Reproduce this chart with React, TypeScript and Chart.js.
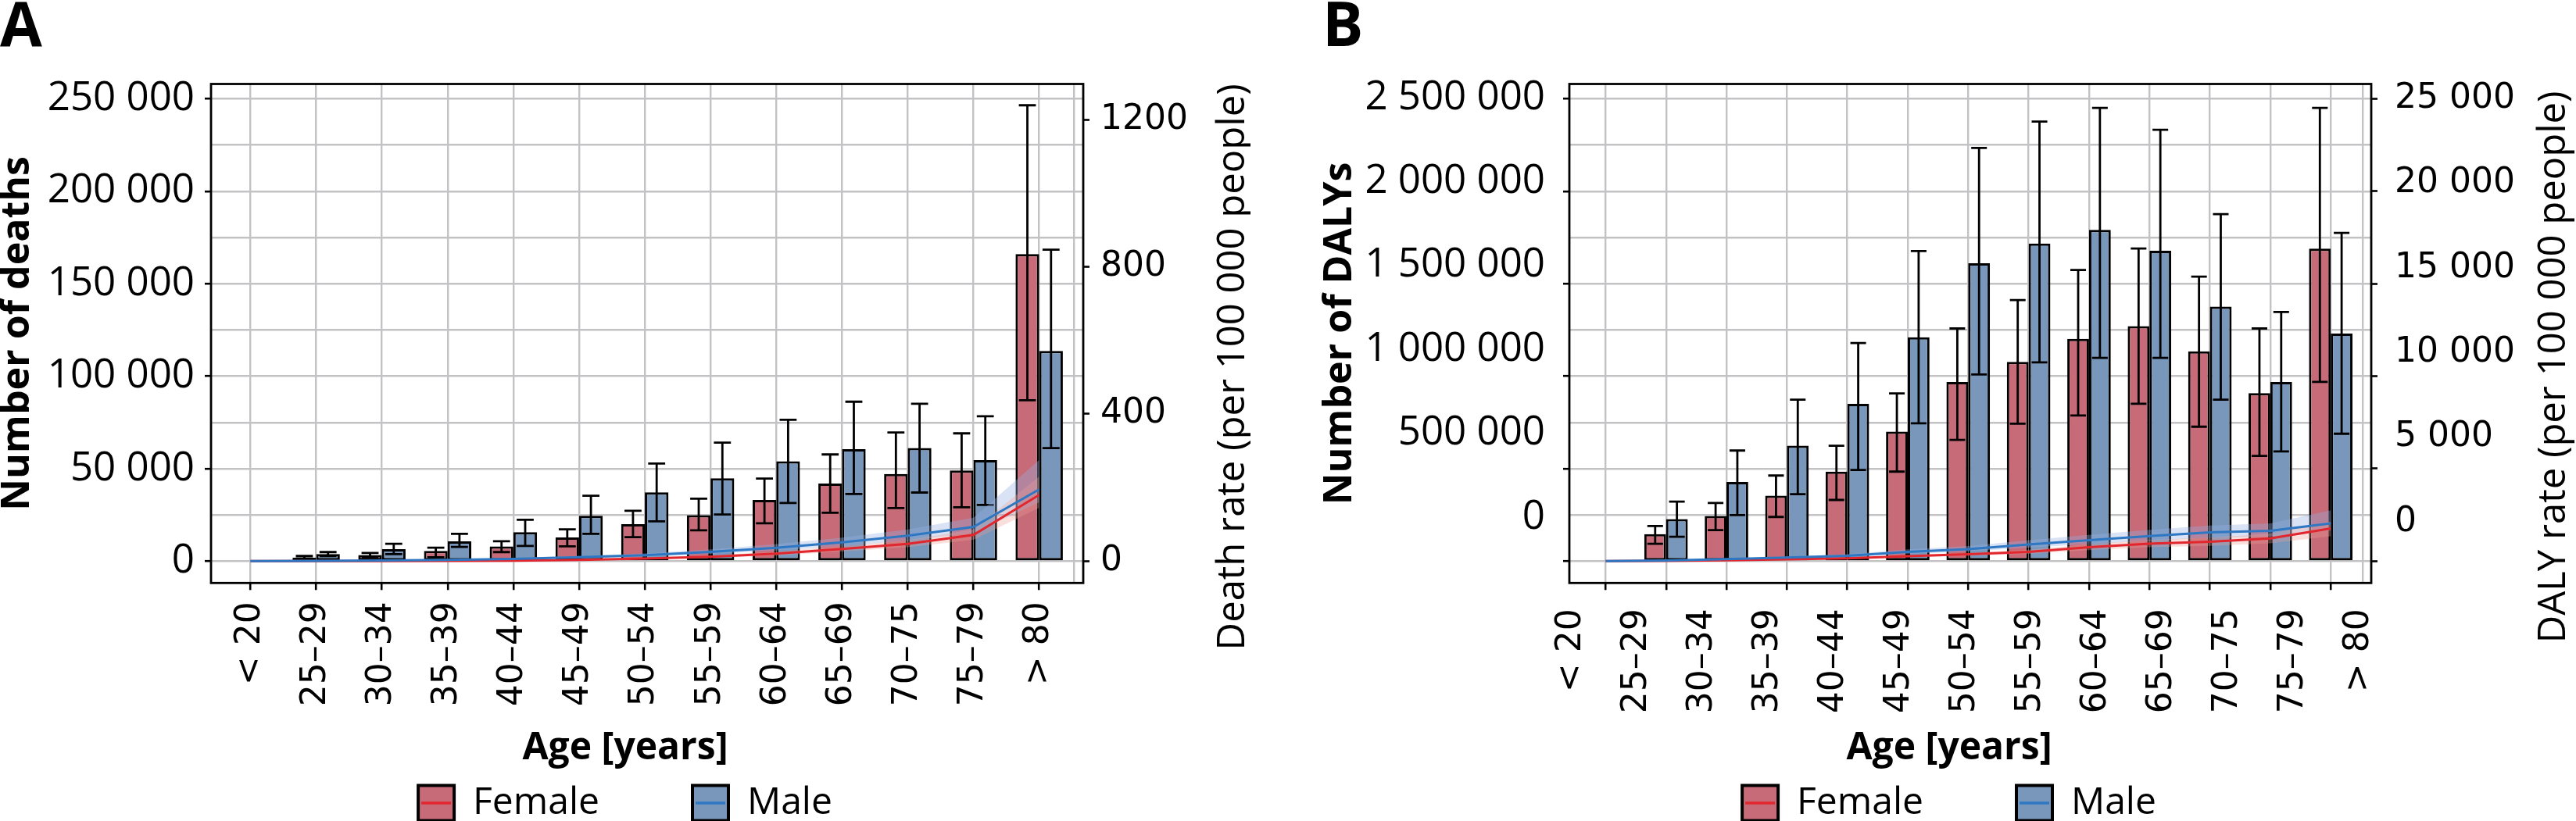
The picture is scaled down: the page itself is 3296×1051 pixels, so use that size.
import React, { useEffect, useRef } from 'react';
import { Chart, registerables } from 'chart.js';

Chart.register(...registerables);

// ---------------- data ----------------
const ageGroups = ['< 20', '25–29', '30–34', '35–39', '40–44', '45–49', '50–54', '55–59', '60–64', '65–69', '70–75', '75–79', '> 80'];
const agePositions = [0, 1, 2, 3, 4, 5, 6, 7, 8, 9, 10, 11, 12];
const extraGridPositions = [12.53];

// Panel A: number of deaths (bars) and death rate (lines)
const deathsFemale = [null, 2000, 3300, 5500, 8000, 12800, 20000, 24900, 33100, 42000, 47100, 49000, 166000];
const deathsFemaleLow = [null, 1400, 2100, 2100, 4900, 8000, 13000, 16700, 20500, 26200, 28700, 29100, 87000];
const deathsFemaleHigh = [null, 2800, 4400, 7300, 10800, 17200, 27200, 33800, 44700, 57700, 69600, 69100, 246500];
const deathsMale = [null, 3800, 6500, 10700, 15700, 24500, 37200, 44800, 54000, 60500, 61200, 54600, 113700];
const deathsMaleLow = [null, 2700, 3800, 7700, 8200, 14800, 21500, 25200, 31500, 36300, 37100, 30400, 61100];
const deathsMaleHigh = [null, 4900, 9400, 14800, 22400, 35400, 52800, 64100, 76400, 86200, 85100, 78300, 168400];

const deathRateFemale = [0, 0.1, 0.2, 0.5, 1, 3, 7, 12, 20, 33, 47, 71, 180];
const deathRateFemaleLow = [0, 0, 0.1, 0.3, 0.6, 2, 5, 9, 15, 26, 38, 58, 145];
const deathRateFemaleHigh = [0, 0.2, 0.4, 0.8, 1.6, 4.5, 9.5, 15.5, 26, 41, 57, 86, 230];
const deathRateMale = [0, 0.7, 1.5, 3.5, 6, 10.5, 16, 25, 36, 51, 69, 93, 195];
const deathRateMaleLow = [0, 0.4, 1, 2.4, 4.2, 7.5, 12, 19.5, 28, 41, 56, 76, 160];
const deathRateMaleHigh = [0, 1.1, 2.2, 5, 8.5, 14, 21, 32, 46, 64, 86, 118, 275];

const deathTicks = [0, 50000, 100000, 150000, 200000, 250000];
const deathGrid = [0, 25000, 50000, 75000, 100000, 125000, 150000, 175000, 200000, 225000, 250000];
const deathRateTicks = [0, 400, 800, 1200];

// Panel B: number of DALYs (bars) and DALY rate (lines)
const dalysFemale = [null, 146000, 244000, 354000, 484000, 701000, 969000, 1077000, 1202000, 1271000, 1135000, 909000, 1690000];
const dalysFemaleLow = [null, 94000, 168000, 239000, 331000, 484000, 656000, 743000, 788000, 851000, 727000, 569000, 969000];
const dalysFemaleHigh = [null, 190000, 315000, 463000, 624000, 907000, 1258000, 1412000, 1574000, 1690000, 1538000, 1258000, 2451000];
const dalysMale = [null, 228000, 428000, 624000, 850000, 1211000, 1611000, 1717000, 1791000, 1678000, 1376000, 969000, 1231000];
const dalysMaleLow = [null, 132000, 249000, 362000, 493000, 745000, 1009000, 1075000, 1099000, 1099000, 873000, 593000, 689000];
const dalysMaleHigh = [null, 322000, 598000, 873000, 1179000, 1677000, 2234000, 2377000, 2451000, 2332000, 1876000, 1347000, 1775000];

const dalyRateFemale = [0, 15, 50, 100, 150, 270, 370, 506, 759, 940, 1049, 1229, 1772];
const dalyRateFemaleLow = [0, 8, 35, 75, 110, 210, 290, 400, 600, 750, 830, 970, 1350];
const dalyRateFemaleHigh = [0, 22, 65, 125, 190, 330, 450, 620, 920, 1140, 1270, 1490, 2150];
const dalyRateMale = [0, 40, 110, 200, 290, 506, 650, 904, 1139, 1356, 1555, 1645, 2043];
const dalyRateMaleLow = [0, 28, 80, 150, 220, 400, 520, 730, 920, 1100, 1260, 1330, 1650];
const dalyRateMaleHigh = [0, 55, 145, 260, 370, 640, 820, 1130, 1420, 1690, 1930, 2040, 2750];

const dalyTicks = [0, 500000, 1000000, 1500000, 2000000, 2500000];
const dalyGrid = [0, 250000, 500000, 750000, 1000000, 1250000, 1500000, 1750000, 2000000, 2250000, 2500000];
const dalyRateTicks = [0, 5000, 10000, 15000, 20000, 25000];

// ---------------- styles ----------------
const FEMALE_BAR = '#c66b77';
const MALE_BAR = '#7897bb';
const FEMALE_LINE = '#e2262e';
const MALE_LINE = '#2e77c2';
const FEMALE_BAND = 'rgba(238,160,150,0.32)';
const MALE_BAND = 'rgba(150,178,228,0.36)';
const GRID = '#c3c3c6';
const TRANSPARENT = 'rgba(0,0,0,0)';

const fmtSpace = (v: number) => String(v).replace(/\B(?=(\d{3})+(?!\d))/g, ' ');
const fmtPlain = (v: number) => String(v);
const toXY = (arr: (number | null)[]) => arr.map((v, i) => ({ x: agePositions[i], y: v }));

// ---------------- plugins ----------------
const errorBarPlugin = {
  id: 'errorBars',
  afterDatasetDraw(chart: any, args: any) {
    const ds: any = chart.data.datasets[args.index];
    if (!ds.errLo) return;
    const meta = args.meta;
    const yScale = chart.scales[meta.yAxisID];
    const ctx = chart.ctx;
    ctx.save();
    ctx.strokeStyle = '#000';
    ctx.lineWidth = 2.8;
    meta.data.forEach((el: any, i: number) => {
      const lo = ds.errLo[i];
      const hi = ds.errHi[i];
      if (lo == null || hi == null) return;
      const x = el.x;
      const half = el.width * 0.36;
      const yl = yScale.getPixelForValue(lo);
      const yh = yScale.getPixelForValue(hi);
      ctx.beginPath();
      ctx.moveTo(x, yl);
      ctx.lineTo(x, yh);
      ctx.moveTo(x - half, yl);
      ctx.lineTo(x + half, yl);
      ctx.moveTo(x - half, yh);
      ctx.lineTo(x + half, yh);
      ctx.stroke();
    });
    ctx.restore();
  },
};

const framePlugin = {
  id: 'frame',
  afterDraw(chart: any) {
    const { left, top, right, bottom } = chart.chartArea;
    const ctx = chart.ctx;
    ctx.save();
    ctx.strokeStyle = '#000';
    ctx.lineWidth = 2.8;
    ctx.strokeRect(left, top, right - left, bottom - top);
    ctx.restore();
  },
};

const LEG_FONT = 48;
const LEG_BOX_W = 46;
const LEG_BOX_H = 45;

const legendLinePlugin = {
  id: 'legendLines',
  afterDraw(chart: any) {
    const legend: any = chart.legend;
    if (!legend || !legend.legendHitBoxes) return;
    const ctx = chart.ctx;
    ctx.save();
    legend.legendItems.forEach((item: any, i: number) => {
      if (!item.lineColor) return;
      const hb = legend.legendHitBoxes[i];
      const boxTop = hb.top + Math.max((LEG_FONT - LEG_BOX_H) / 2, 0);
      const y = boxTop + LEG_BOX_H / 2;
      ctx.strokeStyle = item.lineColor;
      ctx.lineWidth = 3.5;
      ctx.beginPath();
      ctx.moveTo(hb.left + 4, y);
      ctx.lineTo(hb.left + LEG_BOX_W - 4, y);
      ctx.stroke();
    });
    ctx.restore();
  },
};

const sideTitlePlugin = {
  id: 'sideTitle',
  afterDraw(chart: any, _args: any, opts: any) {
    if (!opts || !opts.text) return;
    const s = chart.scales[opts.axis];
    const x = s.right - opts.fromRight;
    const y = (chart.chartArea.top + chart.chartArea.bottom) / 2 + opts.shift;
    const ctx = chart.ctx;
    ctx.save();
    ctx.translate(x, y);
    ctx.rotate(-Math.PI / 2);
    ctx.fillStyle = '#000';
    ctx.textAlign = 'center';
    ctx.textBaseline = 'middle';
    ctx.font = opts.font;
    ctx.fillText(opts.text, 0, 0);
    ctx.restore();
  },
};

// ---------------- config builder ----------------
interface Panel {
  letter: string;
  leftTitle: string;
  rightTitle: string;
  female: (number | null)[]; femaleLo: (number | null)[]; femaleHi: (number | null)[];
  male: (number | null)[]; maleLo: (number | null)[]; maleHi: (number | null)[];
  rateF: number[]; rateFLo: number[]; rateFHi: number[];
  rateM: number[]; rateMLo: number[]; rateMHi: number[];
  yMin: number; yMax: number; yGrid: number[]; yTicks: number[];
  y2Min: number; y2Max: number; y2Ticks: number[]; y2Fmt: (v: number) => string;
  split: null | { yLMin: number; yLMax: number; y2LMin: number; y2LMax: number; xLMin: number; xLMax: number };
  padLeft: number; leftW: number; rightW: number; titleFromRight: number;
}

const X_MIN = -0.6;
const X_MAX = 12.67;

function makeConfig(p: Panel): any {
  const majorSet = new Set(p.yTicks);
  const leftTickFont = { family: "'Open Sans'", size: 51 };
  const rightTickFont = { family: "'DejaVu Sans'", size: 44 };
  const xTickFont = { family: "'DejaVu Sans'", size: 44 };
  const leftTitle = { display: true, text: p.leftTitle, color: '#000', font: { family: "'Open Sans'", weight: 'bold', size: 50, lineHeight: 0.92 }, padding: { top: 0, bottom: 0 } };
  const xTicksLabels = {
    display: true, autoSkip: false, minRotation: 90, maxRotation: 90, padding: 15, color: '#000', font: xTickFont,
    callback: (v: number) => (Number.isInteger(v) && ageGroups[v] !== undefined ? ageGroups[v] : ''),
  };

  const scales: any = {
    x: {
      type: 'linear', position: 'bottom', min: X_MIN, max: X_MAX, offset: false,
      grid: { offset: false, color: GRID, lineWidth: 2.4, drawTicks: true, tickLength: 9, tickWidth: 2.6, tickColor: '#000' },
      border: { display: false },
      ticks: p.split ? { display: false, autoSkip: false } : xTicksLabels,
      afterBuildTicks: (s: any) => { s.ticks = agePositions.map((v) => ({ value: v })); },
      afterFit: (s: any) => { s.height = p.split ? 10 : 188; },
    },
    xG: {
      type: 'linear', position: 'bottom', weight: 5, min: X_MIN, max: X_MAX, offset: false,
      grid: { offset: false, color: GRID, lineWidth: 2.4, drawTicks: false },
      border: { display: false },
      ticks: { display: false, autoSkip: false },
      afterBuildTicks: (s: any) => { s.ticks = extraGridPositions.map((v) => ({ value: v })); },
      afterFit: (s: any) => { s.height = 0; },
    },
    y: {
      type: 'linear', position: 'left', min: p.yMin, max: p.yMax,
      grid: {
        color: GRID, lineWidth: 2.4, drawTicks: true, tickLength: 8, tickWidth: 2.6,
        tickColor: (c: any) => (c.tick && majorSet.has(c.tick.value) ? '#000' : TRANSPARENT),
      },
      border: { display: false },
      ticks: p.split
        ? { display: false, autoSkip: false }
        : { display: true, autoSkip: false, padding: 13, color: '#000', font: leftTickFont, callback: (v: number) => (majorSet.has(v) ? fmtSpace(v) : '') },
      title: p.split ? { display: false } : leftTitle,
      afterBuildTicks: (s: any) => { s.ticks = p.yGrid.map((v) => ({ value: v })); },
      afterFit: (s: any) => { s.width = p.split ? 8 : p.leftW; },
    },
    y2: {
      type: 'linear', position: 'right', min: p.y2Min, max: p.y2Max,
      grid: { display: true, drawOnChartArea: false, drawTicks: true, tickLength: 8, tickWidth: 2.6, tickColor: '#000' },
      border: { display: false },
      ticks: p.split
        ? { display: false, autoSkip: false }
        : { display: true, autoSkip: false, padding: 14, color: '#000', font: rightTickFont, callback: (v: number) => p.y2Fmt(v) },
      afterBuildTicks: (s: any) => { s.ticks = p.y2Ticks.map((v) => ({ value: v })); },
      afterFit: (s: any) => { s.width = p.split ? 8 : p.rightW; },
    },
  };

  if (p.split) {
    const sp = p.split;
    scales.xL = {
      type: 'linear', position: 'bottom', weight: 1, min: sp.xLMin, max: sp.xLMax, offset: false,
      grid: { display: false }, border: { display: false },
      ticks: xTicksLabels,
      afterBuildTicks: (s: any) => { s.ticks = agePositions.map((v) => ({ value: v })); },
      afterFit: (s: any) => { s.height = 178; },
    };
    scales.yL = {
      type: 'linear', position: 'left', weight: 1, min: sp.yLMin, max: sp.yLMax,
      grid: { display: false }, border: { display: false },
      ticks: { display: true, autoSkip: false, padding: 15, color: '#000', font: leftTickFont, callback: (v: number) => fmtSpace(v) },
      title: leftTitle,
      afterBuildTicks: (s: any) => { s.ticks = p.yTicks.map((v) => ({ value: v })); },
      afterFit: (s: any) => { s.width = p.leftW - 8; },
    };
    scales.y2L = {
      type: 'linear', position: 'right', weight: 1, min: sp.y2LMin, max: sp.y2LMax,
      grid: { display: false }, border: { display: false },
      ticks: { display: true, autoSkip: false, padding: 14, color: '#000', font: rightTickFont, callback: (v: number) => p.y2Fmt(v) },
      afterBuildTicks: (s: any) => { s.ticks = p.y2Ticks.map((v) => ({ value: v })); },
      afterFit: (s: any) => { s.width = p.rightW - 8; },
    };
  }

  const lineBase = { type: 'line', pointRadius: 0, tension: 0, xAxisID: 'x', yAxisID: 'y2' };
  const barBase = { type: 'bar', borderColor: '#000', borderWidth: 3, borderSkipped: false, categoryPercentage: 0.72, barPercentage: 1.0, xAxisID: 'x', yAxisID: 'y', order: 5 };
  const datasets: any[] = [
    { ...barBase, label: 'Female', data: toXY(p.female), backgroundColor: FEMALE_BAR, errLo: p.femaleLo, errHi: p.femaleHi },
    { ...barBase, label: 'Male', data: toXY(p.male), backgroundColor: MALE_BAR, errLo: p.maleLo, errHi: p.maleHi },
    { ...lineBase, label: 'Female rate low', data: toXY(p.rateFLo), borderColor: TRANSPARENT, borderWidth: 1, fill: false, order: 3 },
    { ...lineBase, label: 'Female rate high', data: toXY(p.rateFHi), borderColor: TRANSPARENT, borderWidth: 1, fill: { target: 2 }, backgroundColor: FEMALE_BAND, order: 3 },
    { ...lineBase, label: 'Male rate low', data: toXY(p.rateMLo), borderColor: TRANSPARENT, borderWidth: 1, fill: false, order: 3 },
    { ...lineBase, label: 'Male rate high', data: toXY(p.rateMHi), borderColor: TRANSPARENT, borderWidth: 1, fill: { target: 4 }, backgroundColor: MALE_BAND, order: 3 },
    { ...lineBase, label: 'Female rate', data: toXY(p.rateF), borderColor: FEMALE_LINE, borderWidth: 3, fill: false, order: 1 },
    { ...lineBase, label: 'Male rate', data: toXY(p.rateM), borderColor: MALE_LINE, borderWidth: 3, fill: false, order: 0 },
  ];

  const legendItems = [
    { text: 'Female', fillStyle: FEMALE_BAR, strokeStyle: '#000', lineWidth: 4, hidden: false, datasetIndex: 0, lineColor: FEMALE_LINE },
    { text: '', fillStyle: TRANSPARENT, strokeStyle: TRANSPARENT, lineWidth: 0, hidden: false, datasetIndex: -1 },
    { text: 'Male', fillStyle: MALE_BAR, strokeStyle: '#000', lineWidth: 4, hidden: false, datasetIndex: 1, lineColor: MALE_LINE },
  ];

  return {
    type: 'bar',
    data: { datasets },
    plugins: [errorBarPlugin, framePlugin, legendLinePlugin, sideTitlePlugin],
    options: {
      responsive: false,
      animation: false,
      devicePixelRatio: 1,
      events: [],
      layout: { padding: { left: p.padLeft, right: 0, top: 0, bottom: 0 } },
      scales,
      plugins: {
        tooltip: { enabled: false },
        title: {
          display: true, text: p.letter, align: 'start', color: '#000',
          font: { family: "'Open Sans'", weight: 'bold', size: 78, lineHeight: 0.9 },
          padding: { top: 2, bottom: 35.3 },
        },
        legend: {
          display: true, position: 'bottom', align: 'center',
          title: {
            display: true, text: 'Age [years]', color: '#000', position: 'center',
            font: { family: "'Open Sans'", weight: 'bold', size: 48, lineHeight: 0.9 },
            padding: { top: 0, bottom: 2 },
          },
          labels: {
            boxWidth: LEG_BOX_W, boxHeight: LEG_BOX_H, padding: 24.5, color: '#000',
            font: { family: "'Open Sans'", size: LEG_FONT },
            generateLabels: () => legendItems,
          },
        },
        sideTitle: { text: p.rightTitle, axis: p.split ? 'y2L' : 'y2', fromRight: p.titleFromRight, shift: 43, font: "49px 'Open Sans'" },
      },
    },
  };
}

const panelA: Panel = {
  letter: 'A', leftTitle: 'Number of deaths', rightTitle: 'Death rate (per 100 000 people)',
  female: deathsFemale, femaleLo: deathsFemaleLow, femaleHi: deathsFemaleHigh,
  male: deathsMale, maleLo: deathsMaleLow, maleHi: deathsMaleHigh,
  rateF: deathRateFemale, rateFLo: deathRateFemaleLow, rateFHi: deathRateFemaleHigh,
  rateM: deathRateMale, rateMLo: deathRateMaleLow, rateMHi: deathRateMaleHigh,
  yMin: -11800, yMax: 258000, yGrid: deathGrid, yTicks: deathTicks,
  y2Min: -59.5, y2Max: 1297, y2Ticks: deathRateTicks, y2Fmt: fmtPlain,
  split: null,
  padLeft: 0, leftW: 270, rightW: 214, titleFromRight: 22,
};

const panelB: Panel = {
  letter: 'B', leftTitle: 'Number of DALYs', rightTitle: 'DALY rate (per 100 000 people)',
  female: dalysFemale, femaleLo: dalysFemaleLow, femaleHi: dalysFemaleHigh,
  male: dalysMale, maleLo: dalysMaleLow, maleHi: dalysMaleHigh,
  rateF: dalyRateFemale, rateFLo: dalyRateFemaleLow, rateFHi: dalyRateFemaleHigh,
  rateM: dalyRateMale, rateMLo: dalyRateMaleLow, rateMHi: dalyRateMaleHigh,
  yMin: -118000, yMax: 2580000, yGrid: dalyGrid, yTicks: dalyTicks,
  y2Min: -1180, y2Max: 25800, y2Ticks: dalyRateTicks, y2Fmt: fmtSpace,
  split: { yLMin: -391000, yLMax: 2581500, y2LMin: -3602, y2LMax: 25882, xLMin: -0.036, xLMax: 12.179 },
  padLeft: 12, leftW: 316, rightW: 262, titleFromRight: 28,
};

export default function App() {
  const refA = useRef<HTMLCanvasElement>(null);
  const refB = useRef<HTMLCanvasElement>(null);
  useEffect(() => {
    document.body.style.margin = '0';
    document.body.style.overflow = 'hidden';
    Chart.defaults.font.family = "'Open Sans', sans-serif";
    Chart.defaults.color = '#000';
    const a = new Chart(refA.current as HTMLCanvasElement, makeConfig(panelA));
    const b = new Chart(refB.current as HTMLCanvasElement, makeConfig(panelB));
    return () => {
      a.destroy();
      b.destroy();
    };
  }, []);
  return (
    <div style={{ position: 'relative', width: 3296, height: 1051, overflow: 'hidden', background: '#fff' }}>
      <canvas ref={refA} width={1600} height={1062} style={{ position: 'absolute', left: 0, top: 0, width: 1600, height: 1062 }} />
      <canvas ref={refB} width={1616} height={1062} style={{ position: 'absolute', left: 1680, top: 0, width: 1616, height: 1062 }} />
    </div>
  );
}
